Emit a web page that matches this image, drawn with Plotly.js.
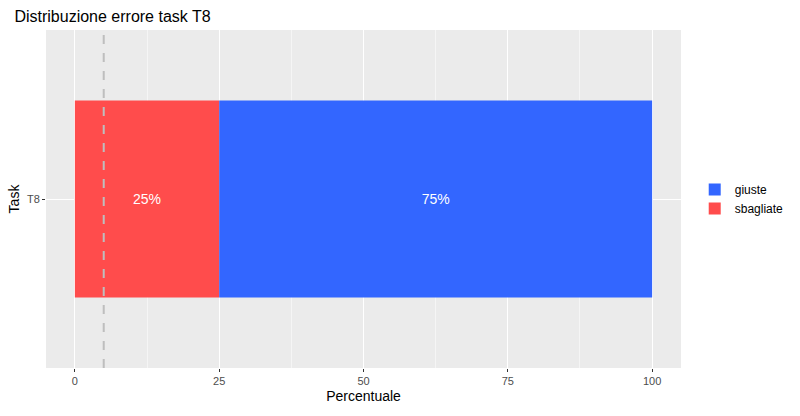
<!DOCTYPE html>
<html>
<head>
<meta charset="utf-8">
<script src="https://cdn.plot.ly/plotly-3.0.1.min.js"></script>
<style>body{margin:0;}#plot{width:800px;height:416px;}</style>
</head>
<body>
<div id="plot"></div>
<script>
// data
const tasks = ["T8"];
const sbagliate = [25];
const giuste = [75];
const threshold = 5;

const fontFam = "Liberation Sans, Arial, sans-serif";

const traces = [
    {
        type: "bar", orientation: "h", name: "sbagliate",
        y: tasks, x: sbagliate, base: [0],
        marker: { color: "#FF4C4C" }, width: 0.7,
        text: sbagliate.map(v => v + "%"), textposition: "inside",
        insidetextanchor: "middle", textfont: { color: "white", size: 14 },
        hoverinfo: "x"
    },
    {
        type: "bar", orientation: "h", name: "giuste",
        y: tasks, x: giuste, base: sbagliate,
        marker: { color: "#3366FF" }, width: 0.7,
        text: giuste.map(v => v + "%"), textposition: "inside",
        insidetextanchor: "middle", textfont: { color: "white", size: 14 },
        hoverinfo: "x"
    }
];

const layout = {
    width: 800, height: 416,
    margin: { l: 46, r: 118, t: 30, b: 48 },
    paper_bgcolor: "white", plot_bgcolor: "#EBEBEB",
    font: { family: fontFam, color: "#4D4D4D", size: 11 },
    title: { text: "Distribuzione errore task T8", x: 0.018, xanchor: "left", y: 0.975,
             font: { size: 16, color: "black" } },
    barmode: "overlay",
    xaxis: {
        range: [-5, 105], tickvals: [0, 25, 50, 75, 100],
        gridcolor: "white", gridwidth: 1.2, zeroline: false,
        ticks: "outside", ticklen: 3, tickcolor: "#333",
        title: { text: "Percentuale", font: { size: 14, color: "black" }, standoff: 4 },
        minor: { tickvals: [12.5, 37.5, 62.5, 87.5], gridcolor: "#F5F5F5", gridwidth: 0.6 }
    },
    yaxis: {
        range: [-0.6, 0.6], type: "category",
        gridcolor: "white", gridwidth: 1.2,
        ticks: "outside", ticklen: 3, tickcolor: "#333",
        title: { text: "Task", font: { size: 14, color: "black" }, standoff: 4 }
    },
    shapes: [{
        type: "line", xref: "x", yref: "paper", x0: threshold, x1: threshold, y0: 0, y1: 1,
        line: { color: "#BEBEBE", width: 2, dash: "dash" }
    }],
    legend: {
        x: 1.02, xanchor: "left", y: 0.5, yanchor: "middle",
        traceorder: "reversed", font: { size: 12, color: "black" },
        itemwidth: 30
    },
    showlegend: true
};

Plotly.newPlot("plot", traces, layout, { displayModeBar: false });
</script>
</body>
</html>
